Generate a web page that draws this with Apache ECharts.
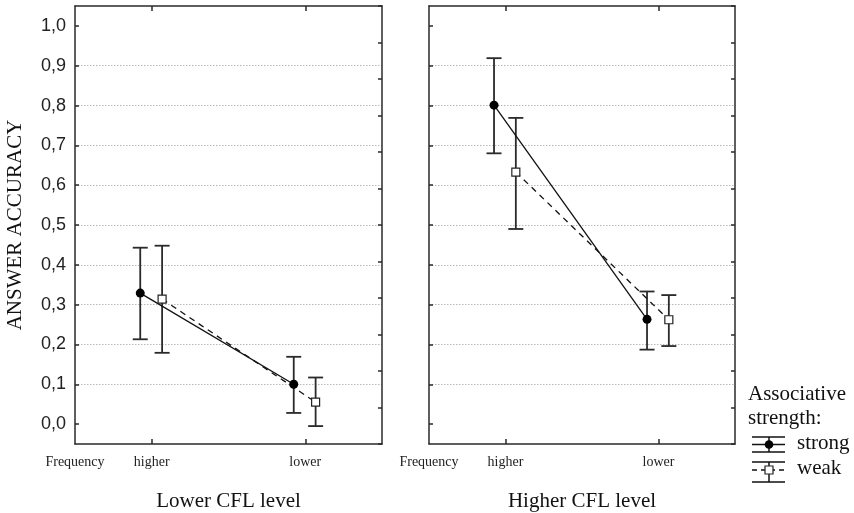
<!DOCTYPE html>
<html>
<head>
<meta charset="utf-8">
<script src="https://cdn.jsdelivr.net/npm/echarts@6/dist/echarts.min.js"></script>
<style>
html,body{margin:0;padding:0;background:#fff;}
#chart{width:854px;height:513px;}
</style>
</head>
<body>
<div id="chart"></div>
<script>
// ---- data ----
var categories = ['higher', 'lower'];
var catPos = [1, 3];
var xLabelMap = {0: 'Frequency', 1: 'higher', 3: 'lower'};
var panelTitles = ['Lower CFL level', 'Higher CFL level'];
var yTicks = [0, 0.1, 0.2, 0.3, 0.4, 0.5, 0.6, 0.7, 0.8, 0.9, 1.0];
var yAxisTitle = 'ANSWER ACCURACY';
var legendTitle = ['Associative', 'strength:'];
var seriesNames = ['strong', 'weak'];

// Lower CFL level panel
var lowStrongMean = [0.329, 0.100];
var lowStrongLo   = [0.213, 0.028];
var lowStrongHi   = [0.443, 0.169];
var lowWeakMean   = [0.314, 0.055];
var lowWeakLo     = [0.179, -0.005];
var lowWeakHi     = [0.448, 0.117];
// Higher CFL level panel
var highStrongMean = [0.801, 0.263];
var highStrongLo   = [0.680, 0.187];
var highStrongHi   = [0.919, 0.333];
var highWeakMean   = [0.633, 0.262];
var highWeakLo     = [0.490, 0.196];
var highWeakHi     = [0.769, 0.324];

var panels = [
  {strong: [lowStrongMean, lowStrongLo, lowStrongHi], weak: [lowWeakMean, lowWeakLo, lowWeakHi]},
  {strong: [highStrongMean, highStrongLo, highStrongHi], weak: [highWeakMean, highWeakLo, highWeakHi]}
];

// ---- layout / style ----
var dodge = {strong: -0.15, weak: 0.135};
var serif = '"Times New Roman", "Liberation Serif", serif';
var sans = 'Arial, "Liberation Sans", sans-serif';
var frameColor = '#2a2a2a';
var gridLefts = [75, 429];
var gridWidths = [307, 306];

var chart = echarts.init(document.getElementById('chart'), null, {renderer: 'canvas'});

var grids = [], xAxes = [], yAxes = [], series = [];

function errRender(params, api) {
  var x = api.value(0), lo = api.value(1), hi = api.value(2);
  var pLo = api.coord([x, lo]);
  var pHi = api.coord([x, hi]);
  var hw = 7.5;
  var st = {stroke: '#2a2a2a', lineWidth: 1.8};
  return {
    type: 'group',
    children: [
      {type: 'line', shape: {x1: pLo[0], y1: pLo[1], x2: pHi[0], y2: pHi[1]}, style: st},
      {type: 'line', shape: {x1: pLo[0] - hw, y1: pLo[1], x2: pLo[0] + hw, y2: pLo[1]}, style: st},
      {type: 'line', shape: {x1: pHi[0] - hw, y1: pHi[1], x2: pHi[0] + hw, y2: pHi[1]}, style: st}
    ]
  };
}

for (var p = 0; p < 2; p++) {
  grids.push({left: gridLefts[p], top: 6, width: gridWidths[p], height: 438,
    containLabel: false, outerBoundsMode: 'none'});
  // bottom x
  xAxes.push({
    gridIndex: p, type: 'value', position: 'bottom', min: 0, max: 4, interval: 1,
    axisLine: {show: true, onZero: false, lineStyle: {color: frameColor, width: 1.5}},
    axisTick: {show: true, inside: true, length: 5, customValues: catPos, lineStyle: {color: frameColor, width: 1.5}},
    axisLabel: {show: true, customValues: [0].concat(catPos), margin: 11,
      formatter: function (v) { return xLabelMap[v] || ''; },
      fontFamily: serif, fontSize: 14, color: '#222'},
    splitLine: {show: false},
    name: panelTitles[p], nameLocation: 'middle', nameGap: 47,
    nameTextStyle: {fontFamily: serif, fontSize: 21, color: '#111'}
  });
  // top x
  xAxes.push({
    gridIndex: p, type: 'value', position: 'top', min: 0, max: 4, interval: 1,
    axisLine: {show: true, onZero: false, lineStyle: {color: frameColor, width: 1.5}},
    axisTick: {show: true, inside: true, length: 5, customValues: catPos, lineStyle: {color: frameColor, width: 1.5}},
    axisLabel: {show: false}, splitLine: {show: false}
  });
  // left y
  yAxes.push({
    gridIndex: p, type: 'value', position: 'left', min: -0.05, max: 1.05, splitNumber: 11,
    axisLine: {show: true, onZero: false, lineStyle: {color: frameColor, width: 1.5}},
    axisTick: {show: true, inside: true, length: 4, customValues: yTicks, lineStyle: {color: frameColor, width: 1.5}},
    axisLabel: {show: p === 0, customValues: yTicks, margin: 9,
      formatter: function (v) { return v.toFixed(1).replace('.', ','); },
      fontFamily: sans, fontSize: 18, color: '#222'},
    splitLine: {show: true, showMinLine: false, showMaxLine: false,
      lineStyle: {color: '#b8b8b8', type: [1.5, 1.5], width: 1}},
    name: p === 0 ? yAxisTitle : '', nameLocation: 'middle', nameGap: 49, nameRotate: 90,
    nameTextStyle: {fontFamily: serif, fontSize: 21, color: '#111'}
  });
  // right y (frame ticks)
  yAxes.push({
    gridIndex: p, type: 'value', position: 'right', min: 0, max: 12, interval: 1,
    axisLine: {show: true, onZero: false, lineStyle: {color: frameColor, width: 1.5}},
    axisTick: {show: true, inside: true, length: 4, lineStyle: {color: frameColor, width: 1.5}},
    axisLabel: {show: false}, splitLine: {show: false}
  });

  var xi = p * 2, yi = p * 2;
  ['strong', 'weak'].forEach(function (key) {
    var arr = panels[p][key];
    var mean = arr[0], lo = arr[1], hi = arr[2];
    var errData = [], lineData = [];
    for (var i = 0; i < categories.length; i++) {
      var xx = catPos[i] + dodge[key];
      errData.push([xx, lo[i], hi[i]]);
      lineData.push([xx, mean[i]]);
    }
    series.push({
      type: 'custom', xAxisIndex: xi, yAxisIndex: yi, data: errData,
      renderItem: errRender, clip: false, z: 2, silent: true,
      encode: {x: 0, y: [1, 2]}
    });
    var isStrong = key === 'strong';
    series.push({
      type: 'line', name: key, xAxisIndex: xi, yAxisIndex: yi, data: lineData, z: 4,
      clip: false, silent: true, animation: false,
      symbol: isStrong ? 'circle' : 'rect',
      symbolSize: isStrong ? 9 : 8,
      itemStyle: isStrong ? {color: '#000', borderColor: '#000', borderWidth: 0}
                          : {color: '#fff', borderColor: '#222', borderWidth: 1.2},
      lineStyle: {color: '#111', width: 1.3, type: isStrong ? 'solid' : [6, 5]}
    });
  });
}

// legend drawn as graphic
var lgX = 752, lgW = 33, lgCx = 769;
var ln = {stroke: '#111', lineWidth: 1.5};
var graphics = [
  {type: 'text', left: 748, top: 382, style: {text: legendTitle.join('\n'), font: '21px ' + serif, fill: '#111', lineHeight: 24}},
  // strong icon
  {type: 'line', shape: {x1: lgX, y1: 437, x2: lgX + lgW, y2: 437}, style: ln},
  {type: 'line', shape: {x1: lgX, y1: 444.5, x2: lgX + lgW, y2: 444.5}, style: ln},
  {type: 'line', shape: {x1: lgX, y1: 452, x2: lgX + lgW, y2: 452}, style: ln},
  {type: 'line', shape: {x1: lgCx, y1: 437, x2: lgCx, y2: 452}, style: ln},
  {type: 'circle', shape: {cx: lgCx, cy: 444.5, r: 4.3}, style: {fill: '#000'}},
  {type: 'text', left: 797, top: 433, style: {text: seriesNames[0], font: '21px ' + serif, fill: '#111'}},
  // weak icon
  {type: 'line', shape: {x1: lgX, y1: 462, x2: lgX + lgW, y2: 462}, style: ln},
  {type: 'line', shape: {x1: lgX, y1: 470, x2: lgX + lgW, y2: 470}, style: {stroke: '#111', lineWidth: 1.5, lineDash: [5, 4]}},
  {type: 'line', shape: {x1: lgX, y1: 482, x2: lgX + lgW, y2: 482}, style: ln},
  {type: 'line', shape: {x1: lgCx, y1: 462, x2: lgCx, y2: 482}, style: ln},
  {type: 'rect', shape: {x: lgCx - 4, y: 466, width: 8, height: 8}, style: {fill: '#fff', stroke: '#222', lineWidth: 1.2}},
  {type: 'text', left: 797, top: 458, style: {text: seriesNames[1], font: '21px ' + serif, fill: '#111'}}
];

chart.setOption({
  animation: false,
  backgroundColor: '#fff',
  grid: grids,
  xAxis: xAxes,
  yAxis: yAxes,
  series: series,
  graphic: graphics
});
</script>
</body>
</html>
